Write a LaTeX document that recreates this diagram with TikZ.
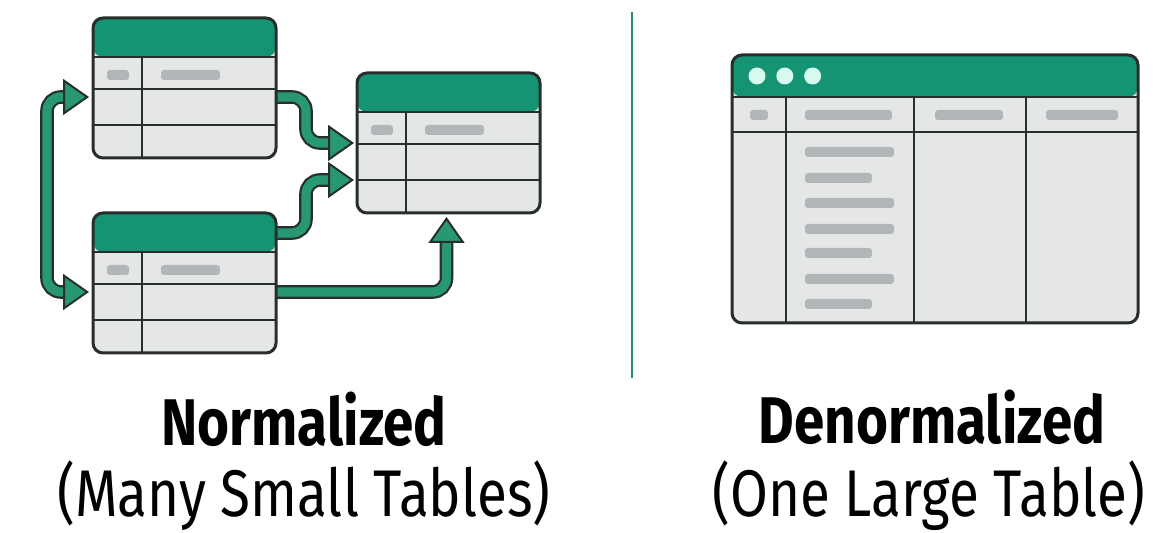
\documentclass[tikz,border=0pt]{standalone}
\usepackage{fontspec}
\setmainfont[FakeStretch=0.83]{Fira Sans}
\usetikzlibrary{positioning, arrows.meta, backgrounds, calc}

\definecolor{hdrgreen}{RGB}{20,148,114}
\definecolor{agreen}{RGB}{40,152,116}
\definecolor{dkline}{RGB}{40,46,45}
\definecolor{cellgray}{RGB}{229,231,231}
\definecolor{bargray}{RGB}{178,182,184}
\definecolor{divline}{RGB}{42,140,120}
\definecolor{mint}{RGB}{214,250,238}

\tikzset{
	tbl/.style={draw=dkline, line width=1.5pt, fill=cellgray, rounded corners=5pt,
		inner sep=0pt, outer sep=0pt, anchor=north west,
		path picture={\fill[hdrgreen] (path picture bounding box.north west)
			rectangle ([yshift=-#1]path picture bounding box.north east);}},
	grid/.style={draw=dkline, line width=1.2pt},
	bar/.style={fill=bargray, rounded corners=1.5pt},
	dot/.style={circle, fill=mint, inner sep=0pt, minimum size=8.5pt},
	fathead/.tip={Triangle[width=18pt, length=13pt, fill=agreen, color=dkline, line width=1pt]},
	fatout/.style={draw=dkline, line width=6.8pt, rounded corners=7pt},
	fatin/.style={draw=agreen, line width=4.6pt, rounded corners=7pt},
	title/.style={font=\fontsize{33}{38}\selectfont\bfseries, anchor=base},
	subtitle/.style={font=\fontsize{33}{38}\selectfont, anchor=base}
}

% one small table: name, top left corner
\newcommand\smalltab[2]{%
	\begin{scope}[shift={#2}]
		\node[tbl=19.5pt, minimum width=91.5pt, minimum height=70pt] (#1) at (0,0) {};
		\draw[grid] (0,39) -- (183,39) (0,71) -- (183,71) (0,107) -- (183,107)
			(49,39) -- (49,140);
		\fill[bar] (14,52) rectangle (36,62) (68,52) rectangle (127,62);
	\end{scope}}

\begin{document}
\begin{tikzpicture}[x=0.5pt, y=-0.5pt]
		\useasboundingbox (0,0) rectangle (1176,533);

		% normalized side
		\smalltab{tA}{(93,18)}
		\smalltab{tB}{(93,213)}
		\smalltab{tC}{(357,73)}

		\coordinate (lx) at (47,0);
		\coordinate (mx) at (306,0);
		\coordinate (pA) at ([xshift=-2pt, yshift=-4.5pt]tA.west);
		\coordinate (pB) at ([xshift=-2pt, yshift=-4.5pt]tB.west);
		\coordinate (sA) at ([xshift=-3pt, yshift=-4.5pt]tA.east);
		\coordinate (sB1) at ([xshift=-3pt, yshift=25pt]tB.east);
		\coordinate (sB2) at ([xshift=-3pt, yshift=-4.5pt]tB.east);
		\coordinate (eC1) at ([xshift=-1.5pt]tC.west);
		\coordinate (eC2) at ([xshift=-1.5pt, yshift=-18.5pt]tC.west);
		\coordinate (eC3) at ([xshift=-1pt, yshift=-2pt]tC.south);

		\begin{scope}[on background layer]
			\path[fatout, shorten <=11pt, shorten >=11pt] (pA) -- (pA -| lx) -- (pB -| lx) -- (pB);
			\path[fatin, fathead-fathead] (pA) -- (pA -| lx) -- (pB -| lx) -- (pB);
			\path[fatout, shorten >=11pt] (sA) -- (sA -| mx) -- (eC1 -| mx) -- (eC1);
			\path[fatin, -fathead] (sA) -- (sA -| mx) -- (eC1 -| mx) -- (eC1);
			\path[fatout, shorten >=11pt] (sB1) -- (sB1 -| mx) -- (eC2 -| mx) -- (eC2);
			\path[fatin, -fathead] (sB1) -- (sB1 -| mx) -- (eC2 -| mx) -- (eC2);
			\path[fatout, shorten >=11pt] (sB2) -| (eC3);
			\path[fatin, -fathead] (sB2) -| (eC3);
		\end{scope}

		% divider
		\draw[divline, line width=1pt] (632,12) -- (632,378);

		% denormalized side
		\node[tbl=21pt, minimum width=203pt, minimum height=134pt] (tD) at (732,55) {};
		\node[dot] (d1) at (757,76) {};
		\node[dot, right=5pt of d1] (d2) {};
		\node[dot, right=5pt of d2] (d3) {};
		\draw[grid] (732,97) -- (1138,97) (732,132) -- (1138,132)
			(786,97) -- (786,323) (914,97) -- (914,323) (1026,97) -- (1026,323);
		\fill[bar] (750,110) rectangle (768,120) (805,110) rectangle (892,120)
			(935,110) rectangle (1003,120) (1046,110) rectangle (1118,120);
		\foreach \y/\w in {152/894, 178/872, 203/894, 229/894, 253/872, 279/894, 304/872}
			\fill[bar] (805,\y-5) rectangle (\w,\y+5);

		% captions
		\node[title] (nTitle) at (304,445) {Normalized};
		\node[subtitle] (nSub) at (304,516) {(Many Small Tables)};
		\node[title] (dTitle) at (932,444) {Denormalized};
		\node[subtitle] (dSub) at (929,516) {(One Large Table)};
	\end{tikzpicture}
\end{document}
